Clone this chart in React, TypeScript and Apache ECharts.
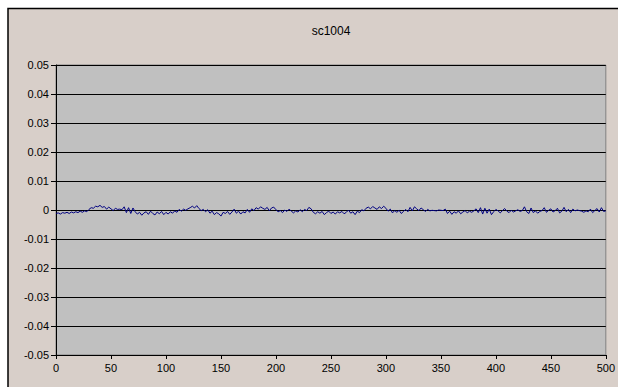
import React, { useEffect, useRef } from "react";
import * as echarts from "echarts";

const TITLE = "sc1004";
const X_MIN = 0;
const X_MAX = 500;
const X_INTERVAL = 50;
const Y_MIN = -0.05;
const Y_MAX = 0.05;
const Y_INTERVAL = 0.01;
const SAMPLE_STEP = 2;

const seriesValues: number[] = [
  -0.0012, -0.0010, -0.0014, -0.0009, -0.0011,
  -0.0008, -0.0012, -0.0007, -0.0010, -0.0006,
  -0.0009, -0.0004, -0.0008, -0.0003, -0.0006,
  0.0002, 0.0008, 0.0006, 0.0013, 0.0011,
  0.0016, 0.0009, 0.0012, 0.0003, 0.0010,
  0.0004, -0.0002, 0.0006, 0.0002, 0.0003,
  0.0001, 0.0011, -0.0009, 0.0008, -0.0012,
  0.0007, -0.0006, -0.0014, -0.0008, -0.0018,
  -0.0010, -0.0006, -0.0015, -0.0004, -0.0012,
  -0.0017, -0.0007, -0.0013, -0.0005, -0.0016,
  -0.0008, -0.0014, -0.0006, -0.0011, -0.0003,
  -0.0008, 0.0002, -0.0004, 0.0003, -0.0001,
  0.0004, 0.0008, 0.0013, 0.0007, 0.0015,
  0.0005, -0.0002, 0.0002, -0.0006, 0.0001,
  -0.0011, -0.0004, -0.0016, -0.0009, -0.0013,
  -0.0021, -0.0008, -0.0012, -0.0005, -0.0015,
  -0.0007, 0.0003, -0.0011, -0.0004, -0.0014,
  -0.0006, -0.0010, 0.0002, -0.0008, 0.0004,
  -0.0002, 0.0008, 0.0003, 0.0011, 0.0006,
  0.0002, 0.0009, -0.0003, 0.0007, 0.0010,
  0.0001, -0.0006, -0.0002, -0.0009, 0.0000,
  -0.0005, 0.0003, -0.0004, -0.0010, -0.0003,
  -0.0007, 0.0001, -0.0006, 0.0002, -0.0002,
  0.0009, 0.0004, -0.0008, -0.0013, -0.0006,
  -0.0011, -0.0005, -0.0016, -0.0009, -0.0004,
  -0.0012, -0.0007, -0.0014, -0.0006, -0.0010,
  -0.0005, -0.0013, -0.0008, 0.0000, -0.0011,
  -0.0006, -0.0016, -0.0004, -0.0009, 0.0001,
  -0.0003, 0.0006, 0.0010, 0.0004, 0.0012,
  0.0007, 0.0002, 0.0011, 0.0005, 0.0013,
  0.0006, -0.0004, 0.0003, -0.0010, -0.0002,
  -0.0008, -0.0001, -0.0012, -0.0005, 0.0002,
  -0.0006, 0.0009, -0.0003, 0.0011, 0.0004,
  -0.0002, 0.0007, 0.0001, -0.0005, 0.0002,
  -0.0003, -0.0001, -0.0002, -0.0003, 0.0000,
  -0.0001, -0.0002, 0.0003, -0.0012, -0.0004,
  -0.0015, -0.0006, -0.0011, -0.0003, -0.0013,
  -0.0007, -0.0002, -0.0010, -0.0004, -0.0008,
  -0.0003, 0.0004, -0.0009, 0.0008, -0.0014,
  0.0006, -0.0011, 0.0003, -0.0016, -0.0006,
  0.0002, -0.0003, -0.0010, -0.0002, 0.0005,
  -0.0004, -0.0009, -0.0001, -0.0007, -0.0003,
  0.0001, -0.0005, -0.0002, 0.0011, -0.0006,
  -0.0012, 0.0007, -0.0009, -0.0003, -0.0011,
  -0.0005, -0.0002, 0.0008, -0.0008, -0.0001,
  0.0004, -0.0007, -0.0002, 0.0006, -0.0010,
  -0.0004, 0.0009, -0.0006, 0.0002, -0.0009,
  0.0003, -0.0003, 0.0000, -0.0002, -0.0004,
  -0.0008, -0.0003, -0.0006, 0.0003, -0.0009,
  -0.0002, 0.0005, -0.0007, 0.0008, -0.0005,
  -0.0003,
];

const FONT = "'Liberation Sans', Arial, sans-serif";

export default function App() {
  const ref = useRef<HTMLDivElement>(null);

  useEffect(() => {
    if (!ref.current) return;
    const chart = echarts.init(ref.current, undefined, { renderer: "svg" });
    const data = seriesValues.map((v, i) => [X_MIN + i * SAMPLE_STEP, v]);
    chart.setOption({
      animation: false,
      backgroundColor: "#ffffff",
      graphic: [
        {
          type: "rect",
          z: -10,
          shape: { x: 8, y: 8.5, width: 620, height: 390 },
          style: { fill: "#d8cfc9", stroke: "#000000", lineWidth: 1.5 },
          silent: true,
        },
        {
          type: "text",
          x: 331,
          y: 31,
          style: {
            text: TITLE,
            font: `12px ${FONT}`,
            fill: "#000000",
            textAlign: "center",
            textVerticalAlign: "middle",
          },
        },
      ],
      grid: {
        left: 56,
        right: 12,
        top: 65,
        bottom: 32,
        show: true,
        backgroundColor: "#c0c0c0",
        borderColor: "#808080",
        borderWidth: 1,
      },
      xAxis: {
        type: "value",
        min: X_MIN,
        max: X_MAX,
        interval: X_INTERVAL,
        axisLine: { show: true, onZero: false, lineStyle: { color: "#000000", width: 1 } },
        axisTick: { show: true, inside: false, length: 4, lineStyle: { color: "#000000" } },
        axisLabel: { color: "#000000", fontFamily: FONT, fontSize: 11, margin: 7 },
        splitLine: { show: false },
      },
      yAxis: {
        type: "value",
        min: Y_MIN,
        max: Y_MAX,
        interval: Y_INTERVAL,
        axisLine: { show: true, onZero: false, lineStyle: { color: "#000000", width: 1 } },
        axisTick: { show: true, inside: false, length: 5, lineStyle: { color: "#000000" } },
        axisLabel: {
          color: "#000000",
          fontFamily: FONT,
          fontSize: 11,
          margin: 7,
          formatter: (v: number) => (Math.abs(v) < 1e-9 ? "0" : v.toFixed(2)),
        },
        splitLine: { show: true, lineStyle: { color: "#000000", width: 1 } },
      },
      series: [
        {
          type: "line",
          data,
          showSymbol: false,
          symbol: "none",
          lineStyle: { color: "#000080", width: 1 },
          z: 5,
        },
      ],
    });
    return () => chart.dispose();
  }, []);

  return (
    <div
      ref={ref}
      style={{ position: "fixed", left: 0, top: 0, width: 618, height: 387 }}
    />
  );
}
